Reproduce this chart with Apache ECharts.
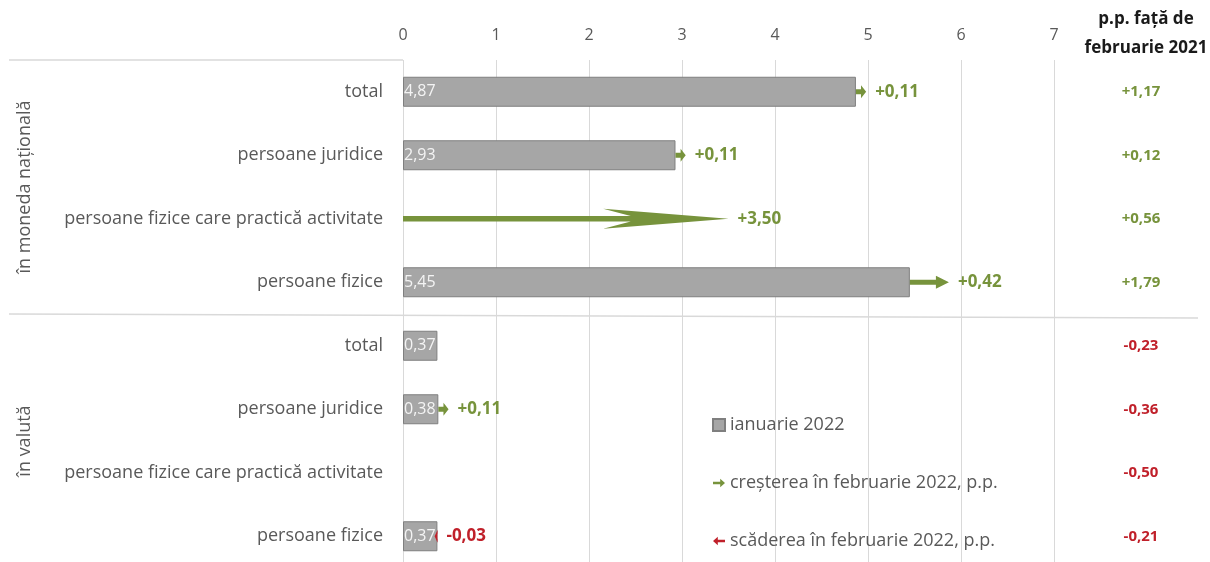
<!DOCTYPE html>
<html>
<head>
<meta charset="utf-8">
<script src="https://cdn.jsdelivr.net/npm/echarts@6/dist/echarts.min.js"></script>
<style>
html,body{margin:0;padding:0;background:#fff;}
#chart{width:1210px;height:562px;}
</style>
</head>
<body>
<div id="chart"></div>
<script>
// ---- data ----
var categories = ['total','persoane juridice','persoane fizice care practică activitate','persoane fizice',
                  'total','persoane juridice','persoane fizice care practică activitate','persoane fizice'];
var groups = ['în moneda națională','în valută'];
var janValues = [4.87, 2.93, 0, 5.45, 0.37, 0.38, 0, 0.37];        // ianuarie 2022
var febChange = [0.11, 0.11, 3.50, 0.42, 0, 0.11, 0, -0.03];       // change in februarie 2022, p.p.
var yoyChange = [1.17, 0.12, 0.56, 1.79, -0.23, -0.36, -0.50, -0.21]; // p.p. față de februarie 2021
var xTicks = [0, 1, 2, 3, 4, 5, 6, 7];

var GREEN = '#77933C', RED = '#C0202A', GRAY_TXT = '#595959';
var FONT = '"Open Sans", "Noto Sans", sans-serif';

function fmt(v, sign){
  var s = Math.abs(v).toFixed(2).replace('.', ',');
  if (sign) s = (v < 0 ? '-' : '+') + s;
  return s;
}

var incData = [], decData = [];
for (var i = 0; i < categories.length; i++) {
  if (febChange[i] > 0) incData.push([i, janValues[i], janValues[i] + febChange[i], febChange[i]]);
  else if (febChange[i] < 0) decData.push([i, janValues[i], janValues[i] + febChange[i], febChange[i]]);
}

function renderArrow(params, api) {
  var cat = api.value(0), start = api.value(1), end = api.value(2), chg = api.value(3);
  var p0 = api.coord([start, cat]), p1 = api.coord([end, cat]);
  var y = p0[1], x0 = p0[0], x1 = p1[0];
  var dir = x1 >= x0 ? 1 : -1;
  var len = Math.abs(x1 - x0);
  var big = len > 100;
  var headLen = big ? len * 0.385 : Math.min(13, Math.max(3, len * 0.5));
  var h = big ? 10 : 6.5;
  var s = big ? 2.8 : 2.6;
  var notch = big ? headLen * 0.22 : 0;
  var xb = x1 - dir * headLen;
  var pts = [[x0, y - s], [xb + dir * notch, y - s], [xb, y - h], [x1, y],
             [xb, y + h], [xb + dir * notch, y + s], [x0, y + s]];
  var color = chg >= 0 ? GREEN : RED;
  var labelX = Math.max(x0, x1) + 9;
  return {
    type: 'group',
    children: [
      { type: 'polygon', shape: { points: pts }, style: { fill: color } },
      { type: 'text', x: labelX, y: y,
        style: { text: fmt(chg, true), fill: color, font: 'bold 17px ' + FONT,
                 textAlign: 'left', textVerticalAlign: 'middle' } }
    ]
  };
}

var chart = echarts.init(document.getElementById('chart'), null, { renderer: 'canvas' });
var option = {
  animation: false,
  backgroundColor: '#fff',
  textStyle: { fontFamily: FONT },
  title: {
    text: 'p.p. față de\nfebruarie 2021',
    left: 1141, top: 0, textAlign: 'center',
    textStyle: { fontSize: 17, fontWeight: 'bold', color: '#1a1a1a', lineHeight: 29, fontFamily: FONT }
  },
  grid: { left: 403, right: 156, top: 60, bottom: -6, containLabel: false, outerBoundsMode: 'none' },
  legend: {
    orient: 'vertical', left: 707, top: 411, itemGap: 40,
    itemWidth: 12, itemHeight: 12,
    textStyle: { fontSize: 18, color: GRAY_TXT, fontFamily: FONT },
    data: [
      { name: 'ianuarie 2022', icon: 'rect' },
      { name: 'creșterea în februarie 2022, p.p.', icon: 'path://M0,3 L6,3 L6,0.5 L10,4 L6,7.5 L6,5 L0,5 Z' },
      { name: 'scăderea în februarie 2022, p.p.', icon: 'path://M10,3 L4,3 L4,0.5 L0,4 L4,7.5 L4,5 L10,5 Z' }
    ]
  },
  xAxis: {
    type: 'value', position: 'top', min: xTicks[0], max: xTicks[xTicks.length - 1], interval: 1,
    axisLine: { show: false }, axisTick: { show: false },
    axisLabel: { fontSize: 16, color: GRAY_TXT, margin: 17, fontFamily: FONT },
    splitLine: { show: true, lineStyle: { color: '#d9d9d9', width: 1 } }
  },
  yAxis: [{
    type: 'category', data: categories, inverse: true,
    axisLine: { show: false }, axisTick: { show: false },
    axisLabel: { fontSize: 18, color: GRAY_TXT, margin: 20, fontFamily: FONT }
  }, {
    type: 'category', data: yoyChange.map(function(v){ return fmt(v, true); }), inverse: true,
    position: 'right',
    axisLine: { show: false }, axisTick: { show: false },
    axisLabel: {
      align: 'center', margin: 87, fontSize: 15, fontWeight: 'bold', fontFamily: FONT,
      color: function(val, idx){ return yoyChange[idx] < 0 ? RED : GREEN; }
    }
  }],
  series: [{
    name: 'ianuarie 2022', type: 'bar',
    data: janValues.map(function(v){ return v > 0 ? v : '-'; }), barWidth: 30,
    itemStyle: { color: '#a6a6a6', borderColor: '#7f7f7f', borderWidth: 1 },
    label: {
      show: true, position: 'insideLeft', distance: 1, fontSize: 16, color: '#f4f4f4', fontFamily: FONT,
      formatter: function(p){ return p.value > 0 ? fmt(p.value, false) : ''; }
    },
    z: 2
  }, {
    name: 'creșterea în februarie 2022, p.p.', type: 'custom', renderItem: renderArrow,
    data: incData, itemStyle: { color: GREEN }, encode: { x: [1, 2], y: 0 }, z: 5
  }, {
    name: 'scăderea în februarie 2022, p.p.', type: 'custom', renderItem: renderArrow,
    data: decData, itemStyle: { color: RED }, encode: { x: [1, 2], y: 0 }, z: 5
  }]
};
chart.setOption(option);

// group separators and rotated group labels, positioned from the axis scale
var yc = categories.map(function(c, i){ return chart.convertToPixel({ yAxisIndex: 0 }, i); });
var gridTop = 60;
var mid = (yc[3] + yc[4]) / 2;
var x0px = chart.convertToPixel({ xAxisIndex: 0 }, 0);
chart.setOption({
  graphic: [
    { type: 'line', shape: { x1: 9, y1: gridTop, x2: x0px, y2: gridTop },
      style: { stroke: '#d9d9d9', lineWidth: 1.5 }, z: 0 },
    { type: 'line', shape: { x1: 9, y1: mid, x2: 1198, y2: mid + 4 },
      style: { stroke: '#d9d9d9', lineWidth: 1.5 }, z: 0 },
    { type: 'text', x: 25, y: (yc[0] + yc[3]) / 2, rotation: Math.PI / 2,
      style: { text: groups[0], font: '18px ' + FONT, fill: GRAY_TXT, textAlign: 'center', textVerticalAlign: 'middle' } },
    { type: 'text', x: 25, y: (yc[4] + yc[7]) / 2, rotation: Math.PI / 2,
      style: { text: groups[1], font: '18px ' + FONT, fill: GRAY_TXT, textAlign: 'center', textVerticalAlign: 'middle' } }
  ]
});
</script>
</body>
</html>
